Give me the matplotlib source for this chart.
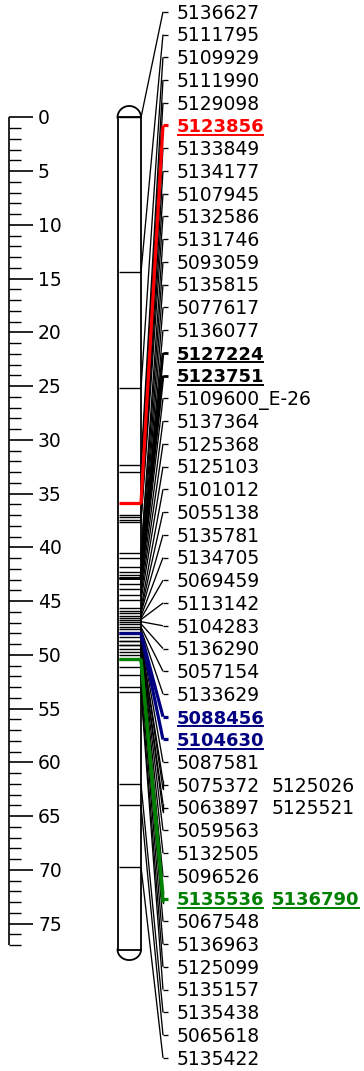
import matplotlib
matplotlib.use("Agg")
import matplotlib.pyplot as plt
import numpy as np

# ---- linkage group data -------------------------------------------------
marker_names = [
    "5136627", "5111795", "5109929", "5111990", "5129098", "5123856",
    "5133849", "5134177", "5107945", "5132586", "5131746", "5093059",
    "5135815", "5077617", "5136077", "5127224", "5123751", "5109600_E-26",
    "5137364", "5125368", "5125103", "5101012", "5055138", "5135781",
    "5134705", "5069459", "5113142", "5104283", "5136290", "5057154",
    "5133629", "5088456", "5104630", "5087581", "5075372", "5125026",
    "5063897", "5125521", "5059563", "5132505", "5096526", "5135536",
    "5136790", "5067548", "5136963", "5125099", "5135157", "5135438",
    "5065618", "5135422",
]
marker_cm = [
    0.0, 14.4, 25.2, 32.3, 33.0, 35.9,
    37.0, 37.2, 37.4, 37.6, 40.5, 41.0,
    41.8, 42.3, 42.6, 42.8, 42.8, 43.4,
    43.9, 44.4, 44.9, 45.6, 45.9, 46.1,
    46.4, 46.6, 46.7, 46.9, 47.1, 47.4,
    47.6, 48.0, 48.0, 48.3, 48.7, 48.7,
    49.1, 49.1, 49.4, 49.7, 50.0, 50.4,
    50.4, 51.1, 51.9, 53.0, 53.4, 62.0,
    64.0, 69.7,
]
# markers sharing one label row
combined_rows = [("5075372", "5125026"), ("5063897", "5125521"),
                 ("5135536", "5136790")]

red_markers = ["5123856"]
blue_markers = ["5088456", "5104630"]
green_markers = ["5135536", "5136790"]
bold_markers = ["5127224", "5123751"]

chrom_length_cm = 77.4
scale_max_cm = 77
scale_major_step = 5

# ---- layout (pixels) ----------------------------------------------------
W, H = 364, 1071
ZERO_PX = 117.5
PX_PER_CM = 10.75
ROW_TOP_PX = 11.8
ROW_STEP_PX = 22.74


def px(n):
    """pixel distance expressed in cM units of the vertical axis"""
    return n / PX_PER_CM


plt.rcParams["font.family"] = ["DejaVu Sans"]
fig = plt.figure(figsize=(W / 100, H / 100), dpi=100)
ax = fig.add_axes([0, 0, 1, 1])
ax.set_xlim(0, W)
ax.set_ylim(px(H - ZERO_PX), px(-ZERO_PX))
ax.axis("off")

# ---- cM scale -----------------------------------------------------------
SX = 9
ax.plot([SX, SX], [0, scale_max_cm], color="black", lw=1.2,
        solid_capstyle="butt")
for v in range(0, scale_max_cm + 1):
    major = v % scale_major_step == 0
    ax.plot([SX, 33 if major else 21], [v, v], color="black",
            lw=1.2 if major else 1.0, solid_capstyle="butt")
    if major:
        ax.text(38, v + px(6.8), str(v), fontsize=13.5, va="baseline",
                ha="left", color="black")

# ---- chromosome outline -------------------------------------------------
CL, CR = 117.5, 141.0
CX, CRAD = (CL + CR) / 2, (CR - CL) / 2
LW_CHR = 1.3
ax.plot([CL, CL], [0, chrom_length_cm], color="black", lw=LW_CHR)
ax.plot([CR, CR], [0, chrom_length_cm], color="black", lw=LW_CHR)
ax.plot([CL, CR], [0, 0], color="black", lw=LW_CHR)
ax.plot([CL, CR], [chrom_length_cm, chrom_length_cm], color="black", lw=LW_CHR)
t = np.linspace(0, np.pi, 60)
ax.plot(CX + CRAD * np.cos(t), 0 - px(11.5) * np.sin(t), color="black",
        lw=LW_CHR)
ax.plot(CX + CRAD * np.cos(t), chrom_length_cm + px(10.5) * np.sin(t),
        color="black", lw=LW_CHR)

pos = dict(zip(marker_names, marker_cm))


def style_of(name):
    if name in red_markers:
        return "#ff0000", 2.3, "bold"
    if name in blue_markers:
        return "#000080", 2.3, "bold"
    if name in green_markers:
        return "#008000", 2.3, "bold"
    if name in bold_markers:
        return "black", 2.0, "bold"
    return "black", 0.95, "normal"


# marker ticks across the chromosome
for name, cm in zip(marker_names, marker_cm):
    color, lw, _ = style_of(name)
    ax.plot([CL + 1.5, CR], [cm, cm], color=color,
            lw=max(lw, 1.0), solid_capstyle="butt",
            zorder=3 if color != "black" else 2)

# ---- label rows ---------------------------------------------------------
rows = []
skip = set()
for name in marker_names:
    if name in skip:
        continue
    grp = next((g for g in combined_rows if g[0] == name), None)
    if grp:
        rows.append(list(grp))
        skip.update(grp)
    else:
        rows.append([name])

X_BEND, X_END, X_TEXT, X_TEXT2 = 163.0, 168.0, 176.5, 272.0
underlines = []
for i, row in enumerate(rows):
    y = px(ROW_TOP_PX + ROW_STEP_PX * i - ZERO_PX)
    if len(row) == 2:
        ends = [y - px(4), y + px(4)]
        ax.plot([X_BEND, X_BEND], ends, color="black", lw=0.95)
    else:
        ends = [y]
    for name, yend in zip(row, ends):
        color, lw, _ = style_of(name)
        z = 4 if color != "black" or lw > 1 else 2
        ax.plot([CR, X_BEND], [pos[name], yend], color=color, lw=lw,
                zorder=z, solid_capstyle="butt")
    c0, lw0, _ = style_of(row[0])
    ax.plot([X_BEND, X_END], [y, y], color=c0, lw=max(lw0, 0.95),
            solid_capstyle="butt", zorder=4)
    for j, name in enumerate(row):
        color, lw, weight = style_of(name)
        tx = ax.text(X_TEXT if j == 0 else X_TEXT2, y + px(6.8), name,
                     fontsize=13.0 if weight == "bold" else 13.5,
                     fontweight=weight, color=color, va="baseline", ha="left")
        if color != "black" or weight == "bold":
            underlines.append((tx, y + px(9.5), color))

fig.canvas.draw()
renderer = fig.canvas.get_renderer()
for tx, yu, color in underlines:
    bb = tx.get_window_extent(renderer)
    x0 = ax.transData.inverted().transform((bb.x0, 0))[0]
    x1 = ax.transData.inverted().transform((bb.x1, 0))[0]
    ax.plot([x0, x1], [yu, yu], color=color, lw=1.4, solid_capstyle="butt")

fig.savefig("out.png", dpi=100)
